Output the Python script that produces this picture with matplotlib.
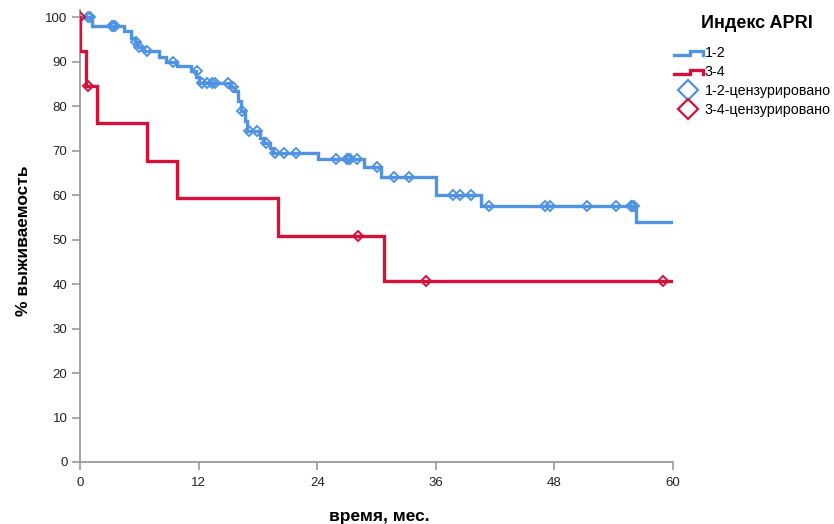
import matplotlib
matplotlib.use("Agg")
import matplotlib.pyplot as plt
from matplotlib.legend_handler import HandlerBase
from matplotlib.lines import Line2D

#data (months, % survival)
group_12_times = [0, 1.2, 4.5, 5.2, 5.6, 5.9, 6.5, 8.0, 8.7, 9.85, 11.2, 11.7, 12.0,
                  15.3, 15.6, 16.0, 16.3, 16.7, 16.9, 18.2, 18.6, 19.2, 19.5,
                  24.1, 28.7, 30.5, 36.0, 40.6, 56.3, 60.0]
group_12_surv = [100, 98.0, 96.8, 95.3, 94.3, 93.3, 92.3, 91.1, 90.0, 89.0, 88.0, 86.6, 85.2,
                 84.4, 83.3, 81.2, 78.8, 76.6, 74.4, 72.8, 71.6, 70.5, 69.5,
                 68.0, 66.2, 64.1, 60.0, 57.5, 54.0, 54.0]
group_12_cens_t = [0.8, 1.0, 3.2, 3.35, 3.5, 5.7, 6.0, 6.75, 9.4, 11.8,
                   12.3, 12.9, 13.4, 13.7, 15.0, 15.45, 16.35, 17.1, 17.9, 18.8,
                   19.7, 20.6, 21.9, 25.9, 27.0, 27.15, 27.3, 28.0, 30.0, 31.8, 33.3,
                   37.7, 38.4, 39.6, 41.4, 47.0, 47.6, 51.3, 54.2, 55.7, 55.9, 56.1]
group_12_cens_s = [100, 100, 98.0, 98.0, 98.0, 94.3, 93.3, 92.3, 90.0, 88.0,
                   85.2, 85.2, 85.2, 85.2, 85.2, 84.4, 78.8, 74.4, 74.4, 71.6,
                   69.5, 69.5, 69.5, 68.0, 68.0, 68.0, 68.0, 68.0, 66.2, 64.1, 64.1,
                   60.0, 60.0, 60.0, 57.5, 57.5, 57.5, 57.5, 57.5, 57.5, 57.5, 57.5]

group_34_times = [0, 0.05, 0.6, 1.7, 6.8, 9.8, 20.0, 30.8, 60.0]
group_34_surv = [100, 92.3, 84.6, 76.2, 67.7, 59.3, 50.8, 40.6, 40.6]
group_34_cens_t = [0, 0.8, 28.1, 35.0, 59.0]
group_34_cens_s = [100, 84.6, 50.8, 40.6, 40.6]

x_ticks = [0, 12, 24, 36, 48, 60]
y_ticks = list(range(0, 101, 10))

BLUE = "#5093e3"
RED = "#d5103a"
AXIS_GREY = "#9a9a9a"

plt.rcParams["font.family"] = ["Liberation Sans", "DejaVu Sans"]


#legend icon that looks like a little step line
class HandlerStep(HandlerBase):
  def create_artists(self, legend, orig_handle, xdescent, ydescent,
                     width, height, fontsize, trans):
    x0 = -xdescent
    y0 = -ydescent
    xs = [x0, x0 + width * 0.55, x0 + width * 0.55, x0 + width, x0 + width]
    ys = [y0 + height * 0.15, y0 + height * 0.15, y0 + height * 0.6,
          y0 + height * 0.6, y0 + height * 0.15]
    line = Line2D(xs, ys, color=orig_handle.get_color(),
                  linewidth=orig_handle.get_linewidth(),
                  solid_joinstyle="miter", transform=trans)
    return [line]


fig = plt.figure(figsize=(8.34, 5.24), dpi=100)
ax = fig.add_axes([80 / 834, 1 - 462 / 524, 593 / 834, 452 / 524])

line12, = ax.step(group_12_times, group_12_surv, where="post", color=BLUE,
                  linewidth=2.4, solid_joinstyle="miter", zorder=3)
line34, = ax.step(group_34_times, group_34_surv, where="post", color=RED,
                  linewidth=2.4, solid_joinstyle="miter", zorder=3)
ax.plot(group_12_cens_t, group_12_cens_s, linestyle="none", marker="D",
        markersize=5.2, markerfacecolor="none", markeredgecolor=BLUE,
        markeredgewidth=1.4, zorder=4)
ax.plot(group_34_cens_t, group_34_cens_s, linestyle="none", marker="D",
        markersize=5.2, markerfacecolor="none", markeredgecolor=RED,
        markeredgewidth=1.4, zorder=4)

#axes look
ax.set_xlim(0, 60)
ax.set_ylim(0, 101.6)
ax.set_xticks(x_ticks)
ax.set_yticks(y_ticks)
for side in ["top", "right"]:
  ax.spines[side].set_visible(False)
for side in ["left", "bottom"]:
  ax.spines[side].set_color(AXIS_GREY)
  ax.spines[side].set_linewidth(1.3)
ax.tick_params(axis="both", colors=AXIS_GREY, length=6, width=1.2,
               labelcolor="#222222", labelsize=9.5)
ax.tick_params(axis="x", pad=5)
ax.tick_params(axis="y", pad=3)

ax.set_xlabel("время, мес.", fontsize=12.5, fontweight="bold")
ax.set_ylabel("% выживаемость", fontsize=12.5, fontweight="bold")
ax.xaxis.set_label_coords(0.505, -0.105)
ax.yaxis.set_label_coords(-0.083, 0.49)

#legend
fig.text(757 / 834, 1 - 23 / 524, "Индекс APRI", ha="center", va="center",
         fontsize=13, fontweight="bold")
cens12 = Line2D([], [], linestyle="none", marker="D", markersize=10,
                markerfacecolor="none", markeredgecolor=BLUE, markeredgewidth=1.6)
cens34 = Line2D([], [], linestyle="none", marker="D", markersize=10,
                markerfacecolor="none", markeredgecolor=RED, markeredgewidth=1.6)
leg = fig.legend([line12, line34, cens12, cens34],
                 ["1-2", "3-4", "1-2-цензурировано", "3-4-цензурировано"],
                 handler_map={line12: HandlerStep(), line34: HandlerStep()},
                 loc="upper left", bbox_to_anchor=(674 / 834, 1 - 46 / 524),
                 frameon=False, fontsize=10.3,
                 handlelength=2.0, handletextpad=0.15, labelspacing=0.34,
                 borderaxespad=0, borderpad=0)

fig.savefig("out.png", dpi=100)
